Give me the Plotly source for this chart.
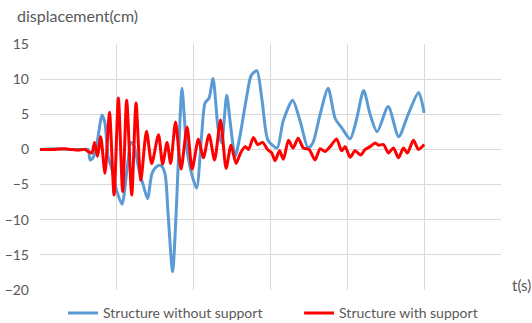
import plotly.graph_objects as go

# time (s) and displacement (cm)
t_without = [0, 1.0, 2.0, 2.8, 3.13, 3.26, 3.45, 3.71, 4.04, 4.23, 4.43, 4.69, 5.01, 5.34, 5.66,
             5.92, 6.12, 6.45, 6.71, 7.00, 7.29, 7.62, 7.88, 8.14, 8.33, 8.63, 8.89, 9.11,
             9.24, 9.54, 9.86, 10.19, 10.51, 10.74, 11.00, 11.26, 11.59, 11.82, 12.15, 12.37,
             12.70, 13.02, 13.41, 13.74, 14.11, 14.45, 14.84, 15.43, 15.82, 16.44, 16.93,
             17.45, 17.77, 18.23, 18.75, 19.21, 19.66, 20.18, 20.57, 21.06, 21.48, 21.94,
             22.66, 23.34, 23.96, 24.64, 25.0]
d_without = [0, 0.1, 0, 0, 0, -1.5, -1.2, 0.9, 4.9, 3.7, -1, -2.9, -6, -7.8, -2.9,
             1.0, 0.5, -3, -5, -7, -3.4, -2.4, -2.3, -3.5, -9, -17.4, -7.6, 4.2,
             8.7, 0.4, -3.4, -5.5, 1.8, 6.6, 7.3, 10.1, 3, 0.9, 7.7, 4,
             -1, 2, 7, 10.5, 11.2, 7, 1.3, 0.2, 4, 7.0, 4,
             0.2, 1, 5, 8.7, 4.4, 3, 1.5, 4, 8.4, 5, 2.5,
             6.1, 1.8, 5, 8.1, 5.2]

t_with = [0, 1.0, 1.6, 2.0, 2.5, 2.93, 3.13, 3.37, 3.55, 3.74, 3.95, 4.23, 4.52, 4.82, 5.10,
          5.38, 5.64, 5.97, 6.25, 6.56, 6.93, 7.27, 7.71, 7.98, 8.27, 8.50, 8.82, 9.18,
          9.57, 9.90, 10.31, 10.63, 11.00, 11.36, 11.75, 12.11, 12.43, 12.76, 13.05,
          13.35, 13.57, 13.89, 14.16, 14.49, 14.81, 15.08, 15.30, 15.59, 15.84, 16.17,
          16.47, 16.80, 17.14, 17.51, 17.90, 18.23, 18.55, 18.88, 19.30, 19.63, 19.86,
          20.18, 20.51, 20.87, 21.16, 21.48, 21.81, 22.04, 22.35, 22.68, 23.00, 23.33,
          23.65, 23.91, 24.30, 24.63, 25.0]
d_with = [0, 0, 0.1, 0, -0.1, 0, -0.3, -0.5, 1.0, -1, 1.8, -3.4, 5.3, -6.5, 7.3,
          -6, 7.0, -6.5, 6.6, -4.4, 2.6, -2, 2.1, -2.1, 1.0, -2, 3.9, -2.8,
          3.2, -2.8, 1.5, -1.2, 2.1, -1.5, 4.2, -2.7, 0.6, -2, -0.5,
          0.4, 0, 1.7, 0.7, 1.0, 0, -0.5, -1.6, -0.2, -1.4, 1.3,
          0.2, 1.6, 0.2, 0, -1.5, 0.1, -0.3, 0.4, 1.5, -0.2, 0.4,
          -1.1, -0.2, -0.8, 0, 0.4, 0.9, 0.6, 0.7, -0.5, 0.2, -1.2,
          0.2, -0.5, 1.3, 0, 0.7]

y_ticks = [-20, -15, -10, -5, 0, 5, 10, 15]

font_family = "Lato, 'Open Sans', sans-serif"
grey = "#595959"

fig = go.Figure()
fig.add_trace(go.Scatter(x=t_without, y=d_without, mode="lines",
                         name="Structure without support", legend="legend",
                         line=dict(color="#5B9BD5", width=3, shape="spline", smoothing=0.7)))
fig.add_trace(go.Scatter(x=t_with, y=d_with, mode="lines",
                         name="Structure with support", legend="legend2",
                         line=dict(color="#FF0000", width=3, shape="spline", smoothing=0.7)))

leg_common = dict(orientation="h", xanchor="left", yref="container", y=0.03,
                  yanchor="middle", font=dict(size=14, color=grey), itemwidth=30,
                  bgcolor="rgba(0,0,0,0)")

fig.update_layout(
    width=532, height=323,
    margin=dict(l=40, r=31, t=44, b=33, autoexpand=False),
    paper_bgcolor="white", plot_bgcolor="white",
    font=dict(family=font_family, color=grey, size=13),
    showlegend=True,
    legend=dict(x=0.05, **leg_common),
    legend2=dict(x=0.562, **leg_common),
    annotations=[
        dict(text="displacement(cm)", xref="paper", yref="paper", x=-0.054, y=1.114,
             xanchor="left", yanchor="middle", showarrow=False,
             font=dict(size=16, color=grey)),
        dict(text="t(s)", xref="paper", yref="paper", x=1.02, y=0.02,
             xanchor="left", yanchor="middle", showarrow=False,
             font=dict(size=15, color=grey)),
    ],
)
fig.update_xaxes(range=[0, 30], dtick=5, tick0=0, showticklabels=False,
                 showgrid=True, gridcolor="#D9D9D9", gridwidth=1, automargin=False,
                 zeroline=False, showline=False, ticks="")
fig.update_yaxes(range=[-20, 15], tickvals=y_ticks, showgrid=True, automargin=False,
                 gridcolor="#D9D9D9", gridwidth=1, zeroline=False,
                 showline=False, ticks="", ticklabelstandoff=10,
                 tickfont=dict(size=14, color=grey))

fig.write_html("out.html", config={"displayModeBar": False},
               post_script="document.body.style.margin='0px';")
